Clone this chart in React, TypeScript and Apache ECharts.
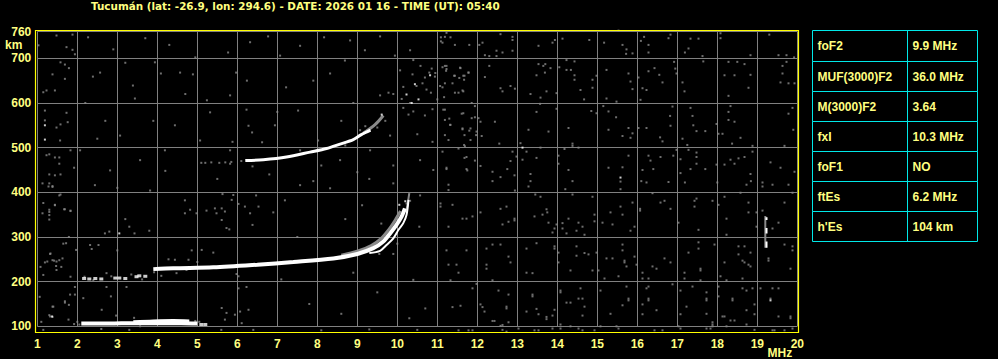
import React, { useEffect, useRef } from "react";
import * as echarts from "echarts";

// ---------- texts ----------
const TITLE = "Tucumán (lat: -26.9, lon: 294.6) - DATE: 2026 01 16 - TIME (UT): 05:40";
const X_MIN = 1;
const X_MAX = 20;
const Y_MIN = 100;
const Y_MAX = 760;
const X_UNIT = "MHz";
const Y_UNIT = "km";

const paramNames = ["foF2", "MUF(3000)F2", "M(3000)F2", "fxI", "foF1", "ftEs", "h'Es"];
const paramValues = ["9.9 MHz", "36.0 MHz", "3.64", "10.3 MHz", "NO", "6.2 MHz", "104 km"];

// ---------- echo traces [frequency MHz, virtual height km] ----------
const esLower = [[2.1, 106], [2.6, 106], [3.1, 107], [3.6, 107], [4.1, 107], [4.6, 107], [5.0, 106]];
const esUpper = [[3.4, 110], [3.9, 112], [4.4, 113], [4.8, 112]];
const fLowDots = [[2.17, 207], [2.3, 206], [2.45, 207], [2.6, 206], [2.95, 208], [3.05, 208], [3.2, 207], [3.48, 211], [3.55, 213], [3.7, 212], [5.1, 104], [5.2, 104]];
const fTrace = [[3.9, 228], [4.4, 230], [5.4, 232], [6.5, 238], [7.4, 244], [8.4, 252], [9.0, 262], [9.4, 275], [9.65, 290], [9.82, 308], [9.98, 327], [10.11, 346], [10.19, 364]];
const fGrayFringe = [[8.6, 259], [9.0, 268], [9.35, 281], [9.6, 297], [9.8, 318], [9.95, 338], [10.08, 358]];
const fStrandX = [[9.3, 264], [9.57, 269], [9.73, 282], [9.9, 297], [10.03, 316], [10.15, 331], [10.23, 349], [10.28, 383]];
const fGrayTail = [[10.22, 355], [10.26, 375], [10.3, 398]];
const f2Trace = [[6.2, 471], [6.65, 473], [7.23, 479], [7.82, 490], [8.23, 498], [8.57, 508], [8.9, 518], [9.1, 529], [9.33, 539]];
const f2GrayTail = [[9.15, 532], [9.45, 552], [9.65, 572]];
const spikeGray = [[19.2, 276], [19.2, 347]];
const spikeWhite = [[19.23, 338], [19.23, 344], [19.23, "-"], [19.23, 308], [19.23, 320], [19.23, "-"], [19.23, 276], [19.23, 290]];

// ---------- white speckles ----------
const whiteSpeckles = [
  [1.19, 550], [1.19, 518], [1.37, 122], [3.05, 308], [10.23, 619], [10.44, 642], [10.53, 608],
  [10.82, 662], [10.36, 600], [9.61, 574], [13.13, 500], [15.58, 433], [19.33, 158], [10.2, 380], [10.05, 372]
];

// ---------- grey noise, low frequencies, low heights ----------
const noiseWestLow = [
  [1.13, 420], [1.28, 413], [1.38, 414], [1.58, 395], [1.3, 361], [1.13, 353], [1.44, 372], [1.67, 362], [1.83, 359],
  [1.72, 286], [1.97, 271], [2.32, 282], [2.53, 282], [2.36, 273], [2.69, 308], [2.8, 312], [3.0, 270], [3.2, 340],
  [3.3, 323], [3.43, 308], [3.8, 314], [4.69, 353], [4.82, 361], [5.23, 359], [4.98, 353], [5.44, 364], [5.61, 364],
  [5.48, 353], [5.69, 357], [5.61, 338], [5.73, 320], [5.8, 317], [5.86, 383], [5.9, 394], [6.03, 374], [6.19, 368],
  [6.32, 353], [6.53, 368], [6.38, 327], [5.63, 396], [1.32, 262], [1.25, 245], [1.42, 247], [1.63, 252], [1.48, 226],
  [1.47, 235], [1.19, 243], [1.94, 188], [2.15, 163], [1.94, 171], [1.82, 171], [1.4, 144], [1.69, 156], [1.32, 122],
  [1.38, 121], [1.78, 115], [2.73, 188], [3.23, 188], [2.84, 167], [2.61, 137], [2.97, 124], [3.42, 119], [3.57, 100],
  [5.61, 141], [5.73, 130], [5.94, 126], [6.07, 133], [6.28, 137], [5.69, 115], [6.11, 107], [6.03, 185], [6.23, 188],
  [4.86, 270], [5.11, 271], [5.4, 265], [4.28, 250], [4.44, 249], [4.78, 249], [5.0, 244], [4.73, 226], [4.48, 219],
  [2.73, 219], [5.98, 217], [6.03, 212], [10.4, 204], [10.55, 323], [10.23, 375], [10.32, 381], [1.6, 233], [1.08, 233],
  [1.15, 215], [1.83, 211], [1.06, 166], [1.38, 144], [1.3, 125], [1.69, 153], [1.79, 148], [1.1, 110], [1.92, 105],
  [1.79, 300], [1.65, 285], [1.33, 263], [1.38, 248], [1.48, 245], [1.55, 248], [2.18, 211], [2.4, 203], [2.85, 212],
  [3.35, 216], [3.62, 205], [3.92, 221], [4.1, 213], [1.15, 92], [2.6, 94], [3.3, 92], [5.6, 92], [6.4, 92], [8.1, 91],
  [9.3, 93], [10.5, 92], [6.47, 393], [7.19, 382], [8.32, 409], [9.12, 371], [7.57, 416], [10.57, 393], [10.19, 360],
  [7.8, 150], [8.6, 128], [9.5, 176], [10.7, 140], [10.3, 118], [7.1, 205], [8.9, 220], [7.5, 300], [8.7, 340],
  [6.9, 355], [9.6, 330], [2.05, 104], [2.0, 110], [4.95, 112], [5.05, 110], [9.9, 262], [10.0, 285], [9.55, 262]
];

// ---------- grey noise, low frequencies, high heights ----------
const noiseWestHigh = [
  [1.48, 751], [1.88, 753], [1.03, 729], [1.73, 725], [1.88, 719], [1.94, 709], [1.58, 691], [1.69, 686], [1.79, 678],
  [1.38, 664], [1.69, 654], [1.15, 624], [1.23, 628], [1.44, 628], [1.19, 583], [1.19, 561], [1.58, 552], [1.48, 545],
  [1.73, 578], [1.76, 557], [1.83, 494], [1.23, 483], [1.3, 485], [1.44, 478], [1.55, 478], [1.55, 464], [1.3, 440],
  [1.44, 438], [1.58, 440], [1.38, 412], [1.3, 420], [1.55, 393], [1.92, 455], [1.15, 376], [1.44, 371], [1.69, 362],
  [1.3, 356], [1.3, 349], [1.3, 339], [1.83, 358], [2.27, 747], [2.57, 668], [2.39, 659], [3.44, 610], [3.39, 639],
  [3.94, 691], [4.09, 666], [4.57, 668], [4.89, 664], [5.24, 606], [5.32, 579], [5.77, 713], [6.24, 650], [5.97, 668],
  [6.77, 749], [7.22, 635], [7.52, 583], [8.17, 747], [8.32, 666], [8.82, 740], [9.57, 617], [10.07, 673], [10.32, 718],
  [11.09, 747], [11.09, 738], [10.69, 572], [1.57, 516], [2.07, 494], [2.44, 416], [2.82, 449], [3.07, 527], [3.57, 472],
  [3.82, 404], [4.19, 494], [4.44, 550], [4.69, 382], [5.07, 516], [5.82, 494], [6.37, 534], [6.62, 512], [6.94, 550],
  [7.57, 494], [8.02, 516], [8.57, 472], [9.07, 539], [9.32, 494], [9.82, 527], [10.57, 472], [6.32, 736], [7.07, 706],
  [7.57, 728], [8.69, 695], [9.19, 718], [9.57, 749], [9.94, 706], [5.1, 466], [5.2, 466], [5.35, 467], [5.55, 466],
  [5.7, 467], [5.85, 468], [5.82, 617], [6.23, 585], [6.28, 549], [5.88, 513], [5.82, 464], [6.38, 458], [9.78, 623],
  [9.9, 620], [10.15, 636], [10.38, 664], [10.58, 683], [10.69, 657], [10.8, 668], [10.86, 677], [10.95, 667],
  [10.94, 659], [10.48, 638], [10.63, 644], [10.73, 630], [10.84, 623], [10.11, 609], [10.32, 600], [10.15, 589],
  [10.4, 581], [10.28, 574], [10.88, 586], [11.0, 608], [11.07, 638], [10.88, 513], [10.4, 696], [2.9, 720], [3.7, 745],
  [4.3, 730], [4.95, 702], [2.2, 600], [2.7, 560], [3.2, 690], [4.7, 620], [3.9, 560], [2.5, 520], [4.2, 448], [3.0, 410],
  [5.5, 430], [6.8, 440], [7.9, 425], [9.0, 445], [9.9, 420], [8.9, 600], [7.9, 650], [7.0, 580], [8.6, 560], [9.9, 460],
  [9.3, 430], [8.1, 460], [10.5, 530], [10.9, 450], [6.1, 470], [9.5, 545], [9.2, 548], [8.7, 505], [9.7, 560]
];

// ---------- grey noise, high frequencies, high heights ----------
const noiseEastHigh = [
  [11.23, 757], [11.33, 747], [11.19, 748], [11.13, 735], [11.44, 730], [11.8, 730], [12.13, 735], [12.05, 730],
  [12.58, 754], [12.88, 748], [12.88, 741], [12.48, 717], [12.48, 705], [12.63, 713], [12.3, 705], [12.19, 707],
  [12.88, 717], [13.53, 728], [13.88, 735], [13.94, 741], [14.13, 744], [14.8, 741], [15.17, 735], [15.53, 762],
  [15.63, 730], [15.73, 720], [15.88, 711], [15.72, 710], [16.17, 748], [16.09, 739], [16.28, 730], [16.83, 753],
  [16.78, 745], [16.28, 713], [17.19, 713], [17.28, 722], [17.33, 744], [17.53, 744], [17.63, 705], [18.08, 756],
  [18.08, 745], [18.83, 707], [19.3, 753], [19.53, 707], [19.73, 707], [19.92, 702],
  [11.23, 683], [11.13, 680], [11.22, 672], [11.58, 678], [11.44, 661], [11.55, 656], [11.67, 652], [11.68, 661],
  [11.78, 668], [11.19, 644], [11.38, 644], [11.44, 623], [11.63, 628], [11.13, 635], [11.17, 613], [12.3, 683],
  [12.19, 658], [12.58, 633], [12.63, 626], [12.83, 638], [12.94, 632], [13.53, 687], [13.65, 683], [13.7, 687],
  [13.69, 668], [13.48, 662], [13.83, 678], [13.33, 620], [13.58, 612], [13.73, 626], [13.98, 622], [14.05, 680],
  [14.23, 674], [14.34, 674], [14.43, 662], [14.43, 652], [14.23, 696], [14.43, 693], [14.58, 629], [14.67, 608],
  [14.88, 652], [14.88, 634], [14.98, 661], [15.23, 674], [15.23, 610], [15.48, 603], [15.78, 666], [15.83, 648],
  [15.88, 631], [16.03, 657], [16.08, 607], [16.13, 633], [16.23, 629], [16.28, 671], [16.43, 678], [16.55, 663],
  [16.63, 646], [16.92, 692], [16.95, 677], [16.98, 666], [17.13, 646], [17.18, 626], [17.65, 693], [18.28, 692],
  [18.5, 692], [18.68, 687], [18.18, 662], [18.43, 662], [18.83, 663], [18.28, 616], [18.78, 634], [19.63, 683],
  [19.63, 666], [19.73, 692], [19.58, 646], [19.78, 644], [19.93, 644],
  [11.19, 585], [11.19, 562], [11.61, 576], [11.94, 568], [11.94, 593], [12.03, 566], [12.08, 558], [12.44, 558],
  [11.33, 551], [11.63, 543], [11.83, 543], [11.19, 528], [11.68, 528], [11.97, 528], [11.83, 517], [11.67, 506],
  [12.11, 526], [13.28, 540], [13.48, 580], [13.57, 598], [13.78, 536], [13.98, 587], [12.55, 509], [13.08, 510],
  [14.28, 544], [14.38, 509], [14.85, 582], [14.98, 577], [15.15, 593], [15.28, 581], [15.47, 568], [15.28, 540],
  [15.63, 526], [15.78, 544], [15.88, 532], [15.83, 522], [16.03, 544], [16.23, 544], [16.57, 523], [16.63, 514],
  [16.83, 549], [16.82, 571], [16.88, 592], [17.13, 520], [17.25, 506], [17.33, 589], [17.38, 571], [17.4, 550],
  [17.48, 537], [17.7, 537], [18.03, 531], [18.13, 531], [18.28, 580], [18.33, 593], [18.28, 562], [18.43, 558],
  [17.98, 553], [18.37, 509], [18.58, 522], [18.88, 504], [19.78, 576], [19.88, 589], [19.9, 540], [19.68, 504],
  [11.13, 491], [11.23, 455], [11.68, 477], [11.73, 452], [12.08, 459], [12.38, 446], [12.58, 434], [12.75, 452],
  [12.83, 470], [12.93, 438], [12.88, 491], [12.98, 480], [13.13, 473], [13.23, 491], [13.48, 477], [13.58, 500],
  [13.33, 441], [14.03, 482], [14.03, 464], [14.18, 497], [14.28, 450], [14.38, 504], [14.53, 500], [15.28, 455],
  [15.63, 456], [15.78, 482], [16.13, 450], [16.28, 482], [16.33, 471], [16.4, 452], [16.58, 479], [16.9, 482],
  [16.98, 495], [17.08, 474], [17.08, 443], [17.28, 495], [17.33, 452], [17.48, 489], [17.48, 479], [17.48, 464],
  [17.7, 452], [17.98, 462], [18.18, 462], [18.33, 473], [18.43, 464], [18.53, 476], [18.68, 479], [18.88, 491],
  [18.83, 441], [19.33, 467], [19.58, 455], [19.93, 446], [11.19, 683], [11.23, 676], [11.57, 679], [11.42, 661],
  [11.65, 661], [11.78, 668], [11.53, 623], [11.65, 626], [11.86, 600], [11.15, 585], [11.3, 565], [11.65, 577],
  [11.86, 566], [11.32, 551], [11.63, 541], [11.8, 538], [11.98, 536], [11.28, 517], [11.53, 498], [11.69, 503],
  [11.73, 479], [11.94, 471], [11.23, 452], [11.75, 449]
];

// ---------- grey noise, high frequencies, low heights ----------
const noiseEastLow = [
  [11.28, 417], [11.28, 405], [12.38, 425], [12.94, 404], [13.28, 413], [13.33, 425], [14.2, 407], [14.38, 425],
  [15.58, 424], [15.58, 407], [16.1, 425], [16.23, 422], [16.78, 423], [17.19, 422], [18.0, 422], [18.73, 417],
  [18.84, 425], [19.13, 422], [19.13, 413], [19.38, 417], [19.78, 417], [19.88, 399],
  [11.08, 375], [11.08, 368], [11.38, 372], [11.28, 323], [11.63, 341], [11.73, 341], [11.88, 346], [12.08, 355],
  [12.58, 363], [12.73, 368], [12.63, 328], [12.78, 334], [12.93, 341], [12.93, 337], [13.45, 395], [13.58, 390],
  [13.43, 346], [13.63, 350], [13.73, 362], [13.75, 355], [13.78, 332], [13.93, 319], [13.88, 310], [13.98, 328],
  [14.13, 331], [14.13, 319], [14.23, 308], [14.38, 395], [14.28, 341], [14.53, 332], [14.48, 314], [14.63, 323],
  [14.68, 305], [14.88, 390], [14.93, 350], [14.93, 335], [15.13, 332], [15.38, 328], [15.33, 355], [15.58, 368],
  [15.63, 350], [15.83, 314], [15.93, 323], [15.88, 377], [16.07, 363], [16.07, 359], [16.38, 398], [16.58, 377],
  [16.68, 381], [16.83, 363], [17.03, 332], [17.43, 381], [17.43, 368], [17.48, 386], [17.53, 316], [17.88, 381],
  [18.03, 372], [18.18, 390], [18.23, 341], [18.23, 305], [18.58, 399], [18.78, 377], [18.78, 355], [18.98, 323],
  [18.98, 355], [19.13, 359], [19.53, 332], [19.38, 319], [19.68, 377],
  [11.23, 270], [11.73, 270], [11.28, 238], [11.48, 238], [11.53, 220], [11.33, 203], [12.23, 274], [12.23, 238],
  [12.23, 229], [12.38, 283], [12.58, 283], [12.38, 203], [12.78, 256], [12.83, 243], [13.23, 274], [13.23, 220],
  [13.38, 219], [13.48, 286], [13.93, 279], [13.93, 274], [14.03, 265], [14.03, 243], [14.33, 225], [14.48, 279],
  [14.48, 258], [14.68, 264], [14.78, 261], [14.88, 225], [14.98, 265], [15.03, 225], [15.18, 207], [15.23, 252],
  [15.38, 252], [15.53, 212], [15.63, 283], [15.63, 270], [15.68, 247], [15.68, 243], [15.73, 234], [15.93, 256],
  [15.98, 238], [16.13, 220], [16.13, 207], [16.28, 207], [16.38, 234], [16.48, 229], [16.68, 252], [16.83, 243],
  [17.18, 220], [17.18, 207], [17.28, 265], [17.53, 288], [17.53, 274], [17.58, 229], [17.58, 225], [17.58, 203],
  [17.93, 283], [18.08, 212], [18.18, 243], [18.23, 203], [18.53, 279], [18.53, 261], [18.63, 207], [18.68, 279],
  [18.63, 247], [18.68, 243], [18.83, 265], [18.78, 238], [18.83, 234], [19.28, 252], [19.28, 247], [19.68, 283],
  [19.83, 229], [19.88, 279], [19.88, 270],
  [11.88, 185], [11.98, 195], [12.53, 180], [12.78, 171], [13.38, 171], [13.38, 167], [12.08, 149], [12.13, 143],
  [11.38, 143], [11.58, 146], [12.73, 144], [12.73, 140], [12.18, 133], [12.38, 112], [12.43, 112], [12.63, 103],
  [12.78, 109], [13.23, 133], [13.48, 139], [13.53, 127], [13.73, 121], [13.73, 116], [13.93, 137], [13.88, 124],
  [14.08, 180], [14.08, 176], [14.08, 104], [14.23, 153], [14.33, 153], [14.53, 162], [14.63, 162], [14.58, 185],
  [14.68, 144], [14.63, 124], [15.08, 180], [15.33, 128], [15.63, 147], [15.73, 189], [15.78, 162], [15.78, 158],
  [16.28, 189], [16.23, 185], [16.28, 162], [16.28, 158], [16.13, 149], [16.13, 127], [16.48, 136], [16.88, 194],
  [17.08, 180], [17.08, 127], [17.23, 144], [17.38, 189], [17.73, 176], [17.73, 162], [17.73, 158], [17.73, 128],
  [17.88, 109], [17.88, 104], [18.03, 189], [18.03, 167], [18.13, 122], [18.18, 122], [18.38, 162], [18.38, 158],
  [18.33, 113], [18.43, 113], [18.63, 185], [18.73, 180], [18.88, 185], [18.93, 149], [18.73, 136], [18.93, 127],
  [18.73, 104], [19.08, 185], [19.38, 185], [19.53, 185], [19.33, 162], [19.53, 122], [19.83, 118], [19.83, 122],
  [11.53, 91], [11.78, 91], [11.88, 91], [12.58, 101], [12.63, 92], [12.73, 88], [13.03, 95], [13.43, 91],
  [13.53, 91], [13.88, 95], [14.08, 95], [14.33, 100], [14.53, 95], [14.63, 91], [14.93, 91], [15.08, 100],
  [15.48, 100], [15.53, 95], [16.43, 91], [16.63, 91], [17.03, 100], [17.08, 95], [17.73, 95], [17.83, 95],
  [17.88, 100], [18.23, 100], [18.93, 92], [19.38, 91], [19.43, 91], [19.68, 91], [19.88, 95]
];

const FONT = "'Liberation Sans', Arial, sans-serif";
const TITLE_FONT = "'DejaVu Sans', 'Liberation Sans', Arial, sans-serif";
const YEL = "#ffff80";
const GRID_GREY = "#808080";
const NOISE_GREY = "#8a8a8a";
const CYAN = "#00e8e8";

export default function App() {
  const ref = useRef<HTMLDivElement>(null);

  useEffect(() => {
    if (!ref.current) return;
    const chart = echarts.init(ref.current, null, { renderer: "svg" });

    const noiseSeries = (data: any[], color: string, z: number) => ({
      type: "scatter",
      data,
      symbol: "rect",
      symbolSize: [2, 2],
      itemStyle: { color },
      clip: false,
      silent: true,
      z,
    });
    const traceSeries = (data: any[], color: string, width: number, z: number, smooth: number | boolean = 0.3) => ({
      type: "line",
      data,
      smooth,
      showSymbol: false,
      connectNulls: false,
      lineStyle: { color, width },
      clip: false,
      silent: true,
      z,
    });

    // table graphics
    const tableX0 = 812.5;
    const tableX1 = 907.5;
    const tableX2 = 977.5;
    const rowTops = paramNames.map((_, i) => (i === 0 ? 30.5 : 31.5 + 30 * i));
    const tableBottom = 31.5 + 30 * paramNames.length;
    const table: any[] = [];
    paramNames.forEach((name, i) => {
      const top = rowTops[i];
      const bottom = i === paramNames.length - 1 ? tableBottom : rowTops[i + 1];
      const mid = (top + bottom) / 2;
      table.push({
        type: "rect",
        shape: { x: tableX0, y: top, width: tableX2 - tableX0, height: bottom - top },
        style: { fill: "none", stroke: CYAN, lineWidth: 1 },
        z: 10,
      });
      table.push({
        type: "text",
        x: 817.5,
        y: mid,
        style: { text: name, fill: YEL, font: `bold 12px ${FONT}`, align: "left", verticalAlign: "middle" },
        z: 11,
      });
      table.push({
        type: "text",
        x: 912.5,
        y: mid,
        style: { text: paramValues[i], fill: YEL, font: `bold 12px ${FONT}`, align: "left", verticalAlign: "middle" },
        z: 11,
      });
    });
    table.push({
      type: "line",
      shape: { x1: tableX1, y1: rowTops[0], x2: tableX1, y2: tableBottom },
      style: { stroke: CYAN, lineWidth: 1 },
      z: 10,
    });

    const option: any = {
      animation: false,
      backgroundColor: "#000000",
      title: {
        text: TITLE,
        left: 91,
        top: 1,
        padding: 0,
        textStyle: { color: YEL, fontSize: 10.4, fontWeight: "bold", fontFamily: TITLE_FONT },
      },
      grid: { left: 37.3, right: 200.7, top: 31.5, bottom: 32.7 },
      xAxis: {
        type: "value",
        min: X_MIN,
        max: X_MAX,
        interval: 1,
        axisLine: { show: false },
        axisTick: { show: false },
        splitLine: { show: true, lineStyle: { color: GRID_GREY, width: 1 } },
        axisLabel: { color: YEL, fontWeight: "bold", fontSize: 12, fontFamily: FONT, margin: 12 },
      },
      yAxis: {
        type: "value",
        min: Y_MIN,
        max: Y_MAX,
        interval: 100,
        axisLine: { show: false },
        axisTick: { show: false },
        splitLine: { show: true, lineStyle: { color: GRID_GREY, width: 1 } },
        axisLabel: { color: YEL, fontWeight: "bold", fontSize: 12, fontFamily: FONT, margin: 6 },
      },
      series: [
        noiseSeries(noiseWestLow, NOISE_GREY, 2),
        noiseSeries(noiseWestHigh, NOISE_GREY, 2),
        noiseSeries(noiseEastHigh, NOISE_GREY, 2),
        noiseSeries(noiseEastLow, NOISE_GREY, 2),
        traceSeries(spikeGray, NOISE_GREY, 2, 3, false),
        traceSeries(spikeWhite, "#ffffff", 2, 4, false),
        traceSeries(fGrayTail, NOISE_GREY, 2, 3),
        traceSeries(fGrayFringe, NOISE_GREY, 3, 3),
        traceSeries(f2GrayTail, NOISE_GREY, 3, 3),
        traceSeries(esLower, "#ffffff", 4, 5),
        traceSeries(esUpper, "#ffffff", 3, 5),
        traceSeries(fTrace, "#ffffff", 4, 5),
        traceSeries(fStrandX, "#ffffff", 2, 5),
        traceSeries(f2Trace, "#ffffff", 3, 5),
        {
          type: "scatter",
          data: fLowDots,
          symbol: "rect",
          symbolSize: [4, 3],
          itemStyle: { color: "#ffffff" },
          clip: false,
          silent: true,
          z: 5,
        },
        noiseSeries(whiteSpeckles, "#ffffff", 5),
      ],
      graphic: [
        {
          type: "rect",
          shape: { x: 35.5, y: 30.5, width: 763, height: 302 },
          style: { fill: "none", stroke: "#ffff00", lineWidth: 1.2 },
          z: 20,
          silent: true,
        },
        {
          type: "text",
          x: 5,
          y: 45,
          style: { text: Y_UNIT, fill: YEL, font: `bold 12px ${FONT}`, align: "left", verticalAlign: "middle" },
          z: 20,
        },
        {
          type: "text",
          x: 767.5,
          y: 352.5,
          style: { text: X_UNIT, fill: YEL, font: `bold 12px ${FONT}`, align: "left", verticalAlign: "middle" },
          z: 20,
        },
        ...table,
      ],
    };

    chart.setOption(option);
    return () => chart.dispose();
  }, []);

  return (
    <div
      ref={ref}
      style={{ position: "fixed", left: 0, top: 0, width: 998, height: 359, background: "#000" }}
    />
  );
}
